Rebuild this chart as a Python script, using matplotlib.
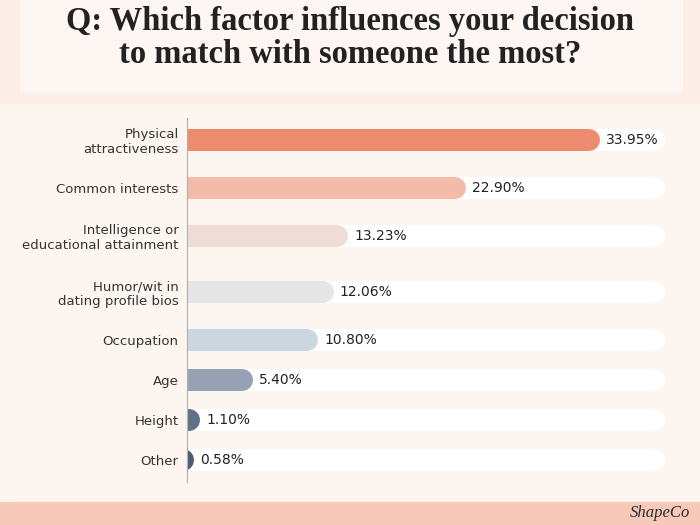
import matplotlib.pyplot as plt
from matplotlib.patches import Rectangle

# --- dados ---
categories = ["Physical\nattractiveness", "Common interests",
              "Intelligence or\neducational attainment",
              "Humor/wit in\ndating profile bios", "Occupation", "Age",
              "Height", "Other"]
values = [33.95, 22.90, 13.23, 12.06, 10.80, 5.40, 1.10, 0.58]
bar_colors = ["#EE8B6F", "#F3BCA9", "#F0DCD6", "#E6E6E8",
              "#CBD7E0", "#96A1B4", "#617089", "#4B5B7B"]
title = "Q: Which factor influences your decision\nto match with someone the most?"

W, H = 700, 525
SCALE = 12.165          # pixels por ponto percentual
TRACK_MAX = 39.3        # fim da faixa branca
BAR_PX = 22

fig = plt.figure(figsize=(W / 100, H / 100), dpi=100)
fig.patch.set_facecolor("#FBEEE6")

# fundo: painel do título, área do gráfico e faixa inferior
bg = fig.add_axes([0, 0, 1, 1])
bg.set_xlim(0, W)
bg.set_ylim(H, 0)
bg.axis("off")
bg.add_patch(Rectangle((20, 0), 662, 92, color="#FDF6F2"))
bg.add_patch(Rectangle((0, 104), W, 398, color="#FDF5F0"))
bg.add_patch(Rectangle((0, 502), W, 23, color="#F6C9B9"))
bg.text(350, 38, title, ha="center", va="center", fontsize=23.5,
        family="Liberation Serif", weight="bold", color="#222222",
        linespacing=1.05)
bg.text(690, 513, "ShapeCo", ha="right", va="center", fontsize=12,
        family="Liberation Serif", style="italic", color="#2A2A2A")

# posições verticais: o espaçamento cresce com o número de linhas do rótulo
n_lines = [c.count("\n") + 1 for c in categories]
positions = [140]
for a, b in zip(n_lines[:-1], n_lines[1:]):
    positions.append(positions[-1] + 40 + 8 * (a - 1) + 8 * (b - 1))

top, bottom, left, right = 118, 482, 187, 680
ax = fig.add_axes([left / W, 1 - bottom / H, (right - left) / W, (bottom - top) / H])
ax.set_facecolor("none")
ax.set_xlim(0, (right - left) / SCALE)
ax.set_ylim(bottom, top)

lw_pt = BAR_PX * 72 / 100
r = (BAR_PX / 2) / SCALE
for y, v, c in zip(positions, values, bar_colors):
    ax.plot([-r, TRACK_MAX - r], [y, y], color="white", lw=lw_pt,
            solid_capstyle="round", zorder=1)
    ax.plot([-r, v - r], [y, y], color=c, lw=lw_pt,
            solid_capstyle="round", zorder=2)
    ax.text(v + 6 / SCALE, y, f"{v:.2f}%", va="center", ha="left",
            fontsize=10, family="DejaVu Sans", color="#222222", zorder=3)

ax.set_yticks(positions, categories)
ax.tick_params(axis="y", length=0, pad=6, labelsize=9.5, labelcolor="#333333")
for lab in ax.get_yticklabels():
    lab.set_family("DejaVu Sans")
    lab.set_horizontalalignment("right")
    lab.set_multialignment("right")
ax.set_xticks([])
for s in ["top", "right", "bottom"]:
    ax.spines[s].set_visible(False)
ax.spines["left"].set_color("#B8B2AE")
ax.spines["left"].set_linewidth(0.9)

fig.savefig("out.png", dpi=100, facecolor=fig.get_facecolor())
